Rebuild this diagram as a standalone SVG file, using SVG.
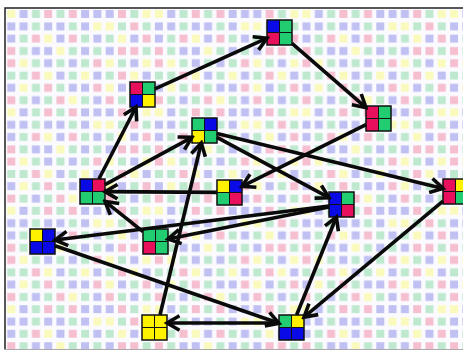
<svg xmlns="http://www.w3.org/2000/svg" xmlns:xlink="http://www.w3.org/1999/xlink" width="463" height="352" viewBox="0 0 463 352">
<style>
.p{fill:#f5bfd0}.y{fill:#fafabd}.b{fill:#c0c0f2}.g{fill:#bfe9cf}
.P{fill:#e8105c}.Y{fill:#fff200}.B{fill:#0a0ae6}.G{fill:#22cc70}
.edge{fill:none;stroke:#0a0a0a;stroke-width:3.6;marker-end:url(#arr)}
</style>
<defs>
<pattern id="bg" x="7.3" y="10" width="147.6" height="98.4" patternUnits="userSpaceOnUse">
<path class="p" d="M36.9 0h8v8h-8zM61.5 0h8v8h-8zM110.7 0h8v8h-8zM123 12.3h8v8h-8zM24.6 24.6h8v8h-8zM61.5 24.6h8v8h-8zM135.3 24.6h8v8h-8zM0 36.9h8v8h-8zM110.7 36.9h8v8h-8zM123 36.9h8v8h-8zM0 49.2h8v8h-8zM86.1 49.2h8v8h-8zM24.6 61.5h8v8h-8zM110.7 61.5h8v8h-8zM36.9 73.8h8v8h-8zM86.1 73.8h8v8h-8zM135.3 73.8h8v8h-8zM0 86.1h8v8h-8zM49.2 86.1h8v8h-8zM98.4 86.1h8v8h-8z"/>
<path class="y" d="M0 0h8v8h-8zM135.3 0h8v8h-8zM86.1 12.3h8v8h-8zM98.4 12.3h8v8h-8zM36.9 24.6h8v8h-8zM110.7 24.6h8v8h-8zM49.2 36.9h8v8h-8zM12.3 49.2h8v8h-8zM98.4 49.2h8v8h-8zM135.3 49.2h8v8h-8zM36.9 61.5h8v8h-8zM73.8 61.5h8v8h-8zM123 61.5h8v8h-8zM12.3 73.8h8v8h-8zM98.4 73.8h8v8h-8zM61.5 86.1h8v8h-8z"/>
<path class="b" d="M12.3 0h8v8h-8zM73.8 0h8v8h-8zM86.1 0h8v8h-8zM98.4 0h8v8h-8zM0 12.3h8v8h-8zM12.3 12.3h8v8h-8zM36.9 12.3h8v8h-8zM49.2 12.3h8v8h-8zM73.8 12.3h8v8h-8zM0 24.6h8v8h-8zM49.2 24.6h8v8h-8zM86.1 24.6h8v8h-8zM123 24.6h8v8h-8zM24.6 36.9h8v8h-8zM36.9 36.9h8v8h-8zM73.8 36.9h8v8h-8zM98.4 36.9h8v8h-8zM36.9 49.2h8v8h-8zM61.5 49.2h8v8h-8zM123 49.2h8v8h-8zM49.2 61.5h8v8h-8zM86.1 61.5h8v8h-8zM135.3 61.5h8v8h-8zM0 73.8h8v8h-8zM61.5 73.8h8v8h-8zM73.8 73.8h8v8h-8zM110.7 73.8h8v8h-8zM24.6 86.1h8v8h-8zM86.1 86.1h8v8h-8zM123 86.1h8v8h-8z"/>
<path class="g" d="M24.6 0h8v8h-8zM49.2 0h8v8h-8zM123 0h8v8h-8zM24.6 12.3h8v8h-8zM61.5 12.3h8v8h-8zM110.7 12.3h8v8h-8zM135.3 12.3h8v8h-8zM12.3 24.6h8v8h-8zM73.8 24.6h8v8h-8zM98.4 24.6h8v8h-8zM12.3 36.9h8v8h-8zM61.5 36.9h8v8h-8zM86.1 36.9h8v8h-8zM135.3 36.9h8v8h-8zM24.6 49.2h8v8h-8zM49.2 49.2h8v8h-8zM73.8 49.2h8v8h-8zM110.7 49.2h8v8h-8zM0 61.5h8v8h-8zM12.3 61.5h8v8h-8zM61.5 61.5h8v8h-8zM98.4 61.5h8v8h-8zM24.6 73.8h8v8h-8zM49.2 73.8h8v8h-8zM123 73.8h8v8h-8zM12.3 86.1h8v8h-8zM36.9 86.1h8v8h-8zM73.8 86.1h8v8h-8zM110.7 86.1h8v8h-8zM135.3 86.1h8v8h-8z"/>
</pattern>
<marker id="arr" markerUnits="userSpaceOnUse" viewBox="0 0 18 18" markerWidth="18" markerHeight="18" refX="15" refY="9" orient="auto">
<path d="M2.5 1.8L15 9L2.5 16.2" fill="none" stroke="#0a0a0a" stroke-width="3.6" stroke-linejoin="miter"/>
</marker>
<g id="grid"><rect width="25" height="25" fill="none" stroke="#111" stroke-width="1.5"/><path d="M12.5 0V25M0 12.5H25" stroke="#111" stroke-width="1"/></g>
</defs>
<rect width="463" height="352" fill="#fff"/>
<rect x="5" y="8" width="470" height="341.5" fill="#fbfbff"/>
<rect x="5" y="8" width="470" height="341.5" fill="url(#bg)"/>
<path d="M5 349.5V8H463" fill="none" stroke="#222" stroke-width="1.5"/>
<path d="M5 349.5H463" fill="none" stroke="#aaa" stroke-width="1"/>
<g id="nodes">
<g id="n-top" transform="translate(267,20)"><rect class="B" width="12.5" height="12.5"/><rect class="G" x="12.5" width="12.5" height="12.5"/><rect class="P" y="12.5" width="12.5" height="12.5"/><rect class="G" x="12.5" y="12.5" width="12.5" height="12.5"/><use href="#grid"/></g>
<g id="n-upleft" transform="translate(130,82)"><rect class="P" width="12.5" height="12.5"/><rect class="G" x="12.5" width="12.5" height="12.5"/><rect class="B" y="12.5" width="12.5" height="12.5"/><rect class="Y" x="12.5" y="12.5" width="12.5" height="12.5"/><use href="#grid"/></g>
<g id="n-rightupper" transform="translate(366,106)"><rect class="P" width="12.5" height="12.5"/><rect class="G" x="12.5" width="12.5" height="12.5"/><rect class="P" y="12.5" width="12.5" height="12.5"/><rect class="G" x="12.5" y="12.5" width="12.5" height="12.5"/><use href="#grid"/></g>
<g id="n-centertop" transform="translate(192,118)"><rect class="G" width="12.5" height="12.5"/><rect class="B" x="12.5" width="12.5" height="12.5"/><rect class="Y" y="12.5" width="12.5" height="12.5"/><rect class="G" x="12.5" y="12.5" width="12.5" height="12.5"/><use href="#grid"/></g>
<g id="n-leftmid" transform="translate(80,179)"><rect class="B" width="12.5" height="12.5"/><rect class="P" x="12.5" width="12.5" height="12.5"/><rect class="G" y="12.5" width="12.5" height="12.5"/><rect class="G" x="12.5" y="12.5" width="12.5" height="12.5"/><use href="#grid"/></g>
<g id="n-center" transform="translate(217,180)"><rect class="Y" width="12.5" height="12.5"/><rect class="B" x="12.5" width="12.5" height="12.5"/><rect class="G" y="12.5" width="12.5" height="12.5"/><rect class="P" x="12.5" y="12.5" width="12.5" height="12.5"/><use href="#grid"/></g>
<g id="n-rightcenter" transform="translate(329,192)"><rect class="B" width="12.5" height="12.5"/><rect class="G" x="12.5" width="12.5" height="12.5"/><rect class="B" y="12.5" width="12.5" height="12.5"/><rect class="P" x="12.5" y="12.5" width="12.5" height="12.5"/><use href="#grid"/></g>
<g id="n-farright" transform="translate(443,179)"><rect class="P" width="12.5" height="12.5"/><rect class="Y" x="12.5" width="12.5" height="12.5"/><rect class="P" y="12.5" width="12.5" height="12.5"/><rect class="G" x="12.5" y="12.5" width="12.5" height="12.5"/><use href="#grid"/></g>
<g id="n-leftlow" transform="translate(30,229)"><rect class="Y" width="12.5" height="12.5"/><rect class="B" x="12.5" width="12.5" height="12.5"/><rect class="B" y="12.5" width="12.5" height="12.5"/><rect class="B" x="12.5" y="12.5" width="12.5" height="12.5"/><use href="#grid"/></g>
<g id="n-centerlow" transform="translate(143,229)"><rect class="G" width="12.5" height="12.5"/><rect class="G" x="12.5" width="12.5" height="12.5"/><rect class="P" y="12.5" width="12.5" height="12.5"/><rect class="G" x="12.5" y="12.5" width="12.5" height="12.5"/><use href="#grid"/></g>
<g id="n-yellow" transform="translate(142,315)"><rect class="Y" width="25" height="25"/><use href="#grid"/></g>
<g id="n-bottomright" transform="translate(279,315)"><rect class="G" width="12.5" height="12.5"/><rect class="Y" x="12.5" width="12.5" height="12.5"/><rect class="B" y="12.5" width="12.5" height="12.5"/><rect class="B" x="12.5" y="12.5" width="12.5" height="12.5"/><use href="#grid"/></g>
</g>
<g id="connectors">
<path class="edge" d="M155 88.8L267 38.2"/>
<path class="edge" d="M292 43.4L366 107.6"/>
<path class="edge" d="M366 124.7L242 186.3"/>
<path class="edge" d="M98.9 179L136 107"/>
<path class="edge" d="M105 184.7L192 137.3"/>
<path class="edge" d="M217 192.4L105 191.6"/>
<path class="edge" d="M143 231.6L105 201.4"/>
<path class="edge" d="M217 133.5L443 188.5"/>
<path class="edge" d="M217 137.3L329 197.7"/>
<path class="edge" d="M329 207L168 239"/>
<path class="edge" d="M329 206L55 240"/>
<path class="edge" d="M55 245.8L279 323.2"/>
<path class="edge" d="M279 323L167 323"/>
<path class="edge" d="M160 315L201.3 143"/>
<path class="edge" d="M296.6 315L336.4 217"/>
<path class="edge" d="M443 201.1L304 317.1"/>
</g>
</svg>
